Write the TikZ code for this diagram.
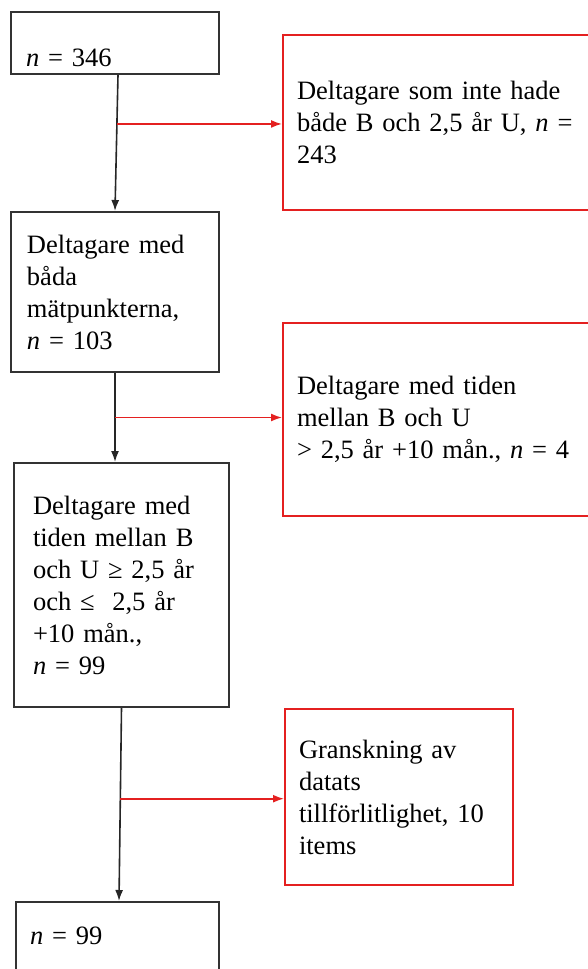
\documentclass[tikz,border=0pt]{standalone}
\usepackage{fontspec}
\setmainfont{Liberation Serif}
\usetikzlibrary{arrows.meta}
\usetikzlibrary{calc}
\definecolor{boxred}{RGB}{228,32,32}

\begin{document}
\begin{tikzpicture}[x=1pt,y=-1pt,
  box/.style={draw=black!80, line width=2pt, inner sep=0pt, align=left,
    font=\fontsize{26.5}{32}\selectfont},
  redbox/.style={box, draw=boxred},
  flow/.style={black!85, line width=1.6pt, -{Latex[length=11pt,width=8pt]}},
  excl/.style={flow, boxred}]
\useasboundingbox (0,0) rectangle (587,969);

\node[box, minimum width=208, minimum height=62, inner xsep=15, text width=178, text height=46, text depth=0] (b1) at (115,43) {\textit{n} = 346};
\node[box, minimum width=208, minimum height=160, inner xsep=16, text width=176] (b2) at (115,292) {Deltagare med\\båda\\mätpunkterna,\\\textit{n} = 103};
\node[box, minimum width=215, minimum height=244, inner xsep=19, text width=177] (b3) at (121.5,585) {Deltagare med\\tiden mellan B\\och U ≥ 2,5 år\\och ≤~ 2,5 år\\+10 mån.,\\\textit{n} = 99};
\node[box, minimum width=203, minimum height=68, inner xsep=14, text width=175] (b4) at (117.5,936) {\textit{n} = 99}; % bottom edge off page

\node[redbox, minimum width=309, minimum height=175, inner xsep=14, text width=281] (r1) at (437.5,122.5) {Deltagare som inte hade\\både B och 2,5 år U, \textit{n} =\\243};
\node[redbox, minimum width=309, minimum height=193, inner xsep=14, text width=281] (r2) at (437.5,419.5) {Deltagare med tiden\\mellan B och U\\> 2,5 år +10 mån., \textit{n} = 4};
\node[redbox, minimum width=228, minimum height=176, inner xsep=14, text width=200] (r3) at (399,797) {Granskning av\\datats\\tillförlitlighet, 10\\items};

% main flow
\draw[flow] ([xshift=3pt]b1.south) -- (b2.north);
\draw[flow] (b2.south) -- (b2.south |- b3.north);
\draw[flow] (b3.south) -- ([xshift=1.5pt]b4.north);

% exclusions
\coordinate (j1) at ($([xshift=3pt]b1.south)!0.36!(b2.north)$);
\coordinate (j2) at ($(b2.south)!0.5!(b2.south |- b3.north)$);
\coordinate (j3) at ($(b3.south)!0.47!([xshift=1.5pt]b4.north)$);
\draw[excl] (j1) -- (j1 -| r1.west);
\draw[excl] (j2) -- (j2 -| r2.west);
\draw[excl] (j3) -- (j3 -| r3.west);

\end{tikzpicture}
\end{document}
